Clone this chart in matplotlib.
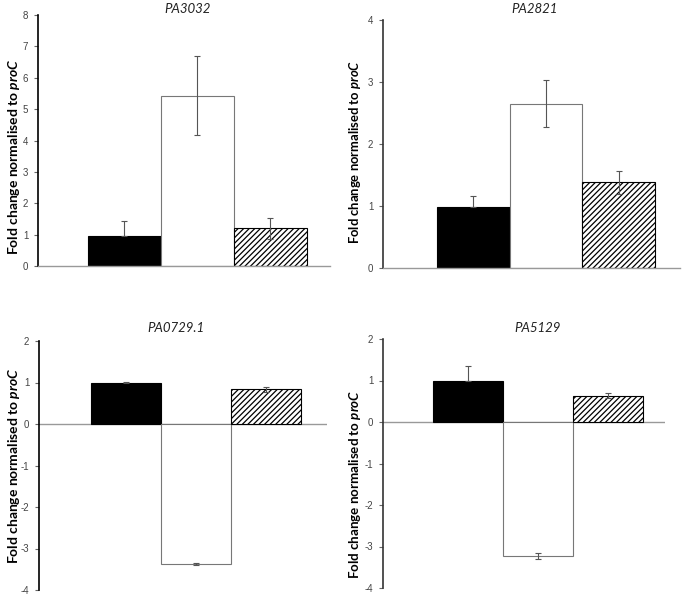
import matplotlib
matplotlib.use("Agg")
import matplotlib.pyplot as plt
import numpy as np

plt.rcParams['mathtext.fontset'] = 'custom'
plt.rcParams['mathtext.rm'] = 'Lato'
plt.rcParams['mathtext.bf'] = 'Lato:bold'
plt.rcParams['mathtext.it'] = 'Lato:italic'
try:
    plt.rcParams['mathtext.bfit'] = 'Lato:bold:italic'
except Exception:
    pass
plt.rcParams['hatch.linewidth'] = 0.9

genes = ["PA3032", "PA2821", "PA0729.1", "PA5129"]
values = [
    [0.95, 5.42, 1.20],
    [0.99, 2.65, 1.38],
    [0.99, -3.37, 0.84],
    [1.00, -3.23, 0.63],
]
err_up = [
    [0.47, 1.26, 0.33],
    [0.17, 0.38, 0.19],
    [0.02, 0.03, 0.06],
    [0.35, 0.07, 0.06],
]
err_low = [
    [0.0, 1.26, 0.33],
    [0.0, 0.38, 0.19],
    [0.0, 0.03, 0.06],
    [0.0, 0.07, 0.06],
]
yticks = [np.arange(0, 9, 1), np.arange(0, 5, 1), np.arange(-4, 3, 1), np.arange(-4, 3, 1)]
ylims = [(0, 8), (0, 4), (-4, 2), (-4, 2)]
xlims = [(-1.18, 2.82), (-1.24, 2.84), (-1.24, 2.87), (-1.21, 2.81)]

W, H = 683, 596
fig = plt.figure(figsize=(W / 100, H / 100), dpi=100)

# axes boxes in pixels: left, right, top, bottom
boxes = [(38, 330, 15, 266), (383, 680, 20, 268), (39, 327, 341, 590), (383, 665, 339, 588)]
title_pos = [(188, 9), (535, 9), (176, 328), (538, 328)]
ylab_pos = [(14, 157), (355, 152), (14, 466), (355, 484)]
ylab_size = [10.0, 9.4, 10.0, 9.6]
spine_col = ['#000000', '#333333', '#000000', '#333333']

faces = ['black', 'white', 'white']
edges = ['black', '#777777', 'black']
hatches = [None, None, '//////']

for i in range(4):
    l, r, t, b = boxes[i]
    ax = fig.add_axes([l / W, 1 - b / H, (r - l) / W, (b - t) / H])
    x = np.arange(3)
    for j in range(3):
        ax.bar(x[j], values[i][j], width=1.0, color=faces[j], edgecolor=edges[j],
               linewidth=0.8, hatch=hatches[j], zorder=2)
    ax.errorbar(x, values[i], yerr=[err_low[i], err_up[i]], fmt='none',
                ecolor='#555555', elinewidth=0.8, capsize=2.5, capthick=0.8, zorder=3)
    ax.set_xlim(*xlims[i])
    ax.set_ylim(*ylims[i])
    ax.set_yticks(yticks[i])
    ax.set_yticklabels([str(v) for v in yticks[i]], fontsize=7, color='#444444',
                       family='Liberation Sans')
    ax.tick_params(axis='y', length=3, width=0.8, color='#666666', pad=4)
    ax.set_xticks([])
    for s in ['top', 'right']:
        ax.spines[s].set_visible(False)
    ax.spines['left'].set_color(spine_col[i])
    ax.spines['left'].set_linewidth(1.2)
    if ylims[i][0] < 0:
        ax.spines['bottom'].set_visible(False)
        ax.axhline(0, color='#999999', linewidth=1.0, zorder=1)
    else:
        ax.spines['bottom'].set_color('#999999')
        ax.spines['bottom'].set_linewidth(1.0)
    ax.patch.set_visible(False)

    tx, ty = title_pos[i]
    fig.text(tx / W, 1 - ty / H, genes[i], ha='center', va='center', fontsize=9.5,
             style='italic', family='Lato', color='#222222')
    lx, ly = ylab_pos[i]
    fig.text(lx / W, 1 - ly / H, r"Fold change normalised to $\mathbfit{proC}$",
             rotation=90, ha='center', va='center', fontsize=ylab_size[i],
             fontweight='bold', family='Lato')

fig.savefig("out.png", dpi=100)
